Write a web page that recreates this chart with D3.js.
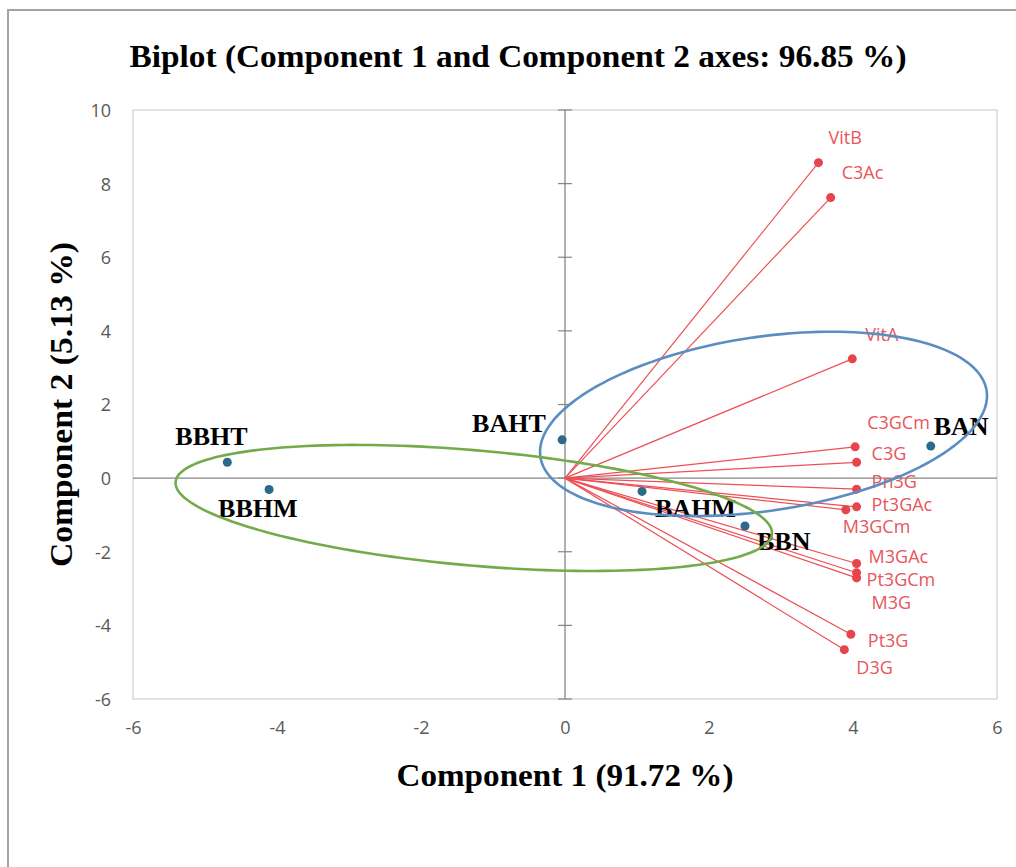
<!DOCTYPE html>
<html>
<head>
<meta charset="utf-8">
<script src="https://cdn.jsdelivr.net/npm/d3@7"></script>
<style>
  body { margin: 0; background: #fff; }
  svg { display: block; }
</style>
</head>
<body>
<svg id="chart" width="1016" height="867"></svg>
<script>
// ---- data ----
const xTicks = [-6, -4, -2, 0, 2, 4, 6];
const yTicks = [-6, -4, -2, 0, 2, 4, 6, 8, 10];

// observations (factor scores)
const obsNames = ["BBHT", "BBHM", "BAHT", "BAHM", "BBN", "BAN"];
const obsX = [-4.69, -4.11, -0.04, 1.07, 2.50, 5.08];
const obsY = [0.43, -0.31, 1.04, -0.36, -1.30, 0.87];

// variables (loading vectors)
const varNames = ["VitB", "C3Ac", "VitA", "C3GCm", "C3G", "Pn3G", "Pt3GAc",
                  "M3GCm", "M3GAc", "Pt3GCm", "M3G", "Pt3G", "D3G"];
const varX = [3.52, 3.69, 3.99, 4.03, 4.05, 4.05, 4.05, 3.90, 4.05, 4.05, 4.05, 3.97, 3.88];
const varY = [8.57, 7.62, 3.24, 0.85, 0.43, -0.30, -0.78, -0.86, -2.32, -2.57, -2.71, -4.24, -4.66];

// group ellipses: centre, spread on each component, correlation
const ellCX = [2.757, -1.267];
const ellCY = [1.473, -0.81];
const ellSX = [3.104, 4.142];
const ellSY = [2.504, 1.712];
const ellR = [0.304, -0.397];

const titleText = "Biplot (Component 1 and Component 2 axes: 96.85 %)";
const xTitle = "Component 1 (91.72 %)";
const yTitle = "Component 2 (5.13 %)";

// ---- layout ----
const plot = { left: 133, right: 997, top: 110, bottom: 699 };
const serif = "'Liberation Serif', 'Times New Roman', serif";
const sans = "'Open Sans', 'Noto Sans', sans-serif";
const ellColors = ["#5a8ec2", "#74ab4a"];

// label nudges (pixels from the marker)
const varNudge = [[10, -25], [11, -25], [13, -24], [12, -24], [15, -9], [15, -8], [15, -2],
                  [-3, 17], [12, -7], [10, 7], [15, 25], [17, 6], [12, 18]];
const obsNudge = [[-52, -17], [-51, 27], [-90, -8], [13, 26], [12, 24], [3, -11]];

const svg = d3.select("#chart");

const x = d3.scaleLinear().domain([-6, 6]).range([plot.left, plot.right]);
const y = d3.scaleLinear().domain([-6, 10]).range([plot.bottom, plot.top]);
const tickFmt = d => String(d);

// outer chart frame
svg.append("rect")
  .attr("x", 8).attr("y", 10)
  .attr("width", 1030).attr("height", 880)
  .attr("fill", "#fff")
  .attr("stroke", "#a3a3a3").attr("stroke-width", 2);

// plot area border
svg.append("rect")
  .attr("x", plot.left).attr("y", plot.top)
  .attr("width", plot.right - plot.left).attr("height", plot.bottom - plot.top)
  .attr("fill", "none").attr("stroke", "#cfcfcf").attr("stroke-width", 1.2);

// tick labels
const xAxis = d3.axisBottom(x).tickValues(xTicks).tickSize(0).tickPadding(0)
  .tickFormat(tickFmt);
svg.append("g")
  .attr("transform", `translate(0,${plot.bottom + 35})`)
  .call(xAxis)
  .call(g => g.select(".domain").remove())
  .call(g => g.selectAll("text")
    .attr("dy", 0).attr("y", 0)
    .attr("font-family", sans).attr("font-size", 18).attr("fill", "#595959"));

const yAxis = d3.axisLeft(y).tickValues(yTicks).tickSize(0).tickPadding(0)
  .tickFormat(tickFmt);
svg.append("g")
  .attr("transform", `translate(${plot.left - 22},0)`)
  .call(yAxis)
  .call(g => g.select(".domain").remove())
  .call(g => g.selectAll("text")
    .attr("dy", "0.36em").attr("x", 0)
    .attr("font-family", sans).attr("font-size", 18).attr("fill", "#595959"));

// axes through the origin
svg.append("line")
  .attr("x1", x(0)).attr("x2", x(0)).attr("y1", plot.top).attr("y2", plot.bottom)
  .attr("stroke", "#868686").attr("stroke-width", 1.3);
svg.append("line")
  .attr("x1", plot.left).attr("x2", plot.right).attr("y1", y(0)).attr("y2", y(0))
  .attr("stroke", "#868686").attr("stroke-width", 1.3);

// cross ticks on the vertical axis
svg.append("g").selectAll("line")
  .data(yTicks)
  .join("line")
  .attr("x1", x(0) - 7).attr("x2", x(0) + 7)
  .attr("y1", d => y(d)).attr("y2", d => y(d))
  .attr("stroke", "#868686").attr("stroke-width", 1.2);

// variable vectors
const vars = varNames.map((n, i) => ({ name: n, x: varX[i], y: varY[i], nudge: varNudge[i] }));
svg.append("g").selectAll("line")
  .data(vars)
  .join("line")
  .attr("x1", x(0)).attr("y1", y(0))
  .attr("x2", d => x(d.x)).attr("y2", d => y(d.y))
  .attr("stroke", "#ee4f55").attr("stroke-width", 1.2);

svg.append("g").selectAll("circle")
  .data(vars)
  .join("circle")
  .attr("cx", d => x(d.x)).attr("cy", d => y(d.y)).attr("r", 4.5)
  .attr("fill", "#e8444b");

svg.append("g").selectAll("text")
  .data(vars)
  .join("text")
  .attr("x", d => x(d.x) + d.nudge[0])
  .attr("y", d => y(d.y) + d.nudge[1] + 6.5)
  .attr("font-family", sans).attr("font-size", 18)
  .attr("fill", "#e8555b")
  .text(d => d.name);

// observations
const obs = obsNames.map((n, i) => ({ name: n, x: obsX[i], y: obsY[i], nudge: obsNudge[i] }));
svg.append("g").selectAll("circle")
  .data(obs)
  .join("circle")
  .attr("cx", d => x(d.x)).attr("cy", d => y(d.y)).attr("r", 4.5)
  .attr("fill", "#2c6a8a");

svg.append("g").selectAll("text")
  .data(obs)
  .join("text")
  .attr("x", d => x(d.x) + d.nudge[0])
  .attr("y", d => y(d.y) + d.nudge[1])
  .attr("font-family", serif).attr("font-size", 26).attr("font-weight", "bold")
  .attr("fill", "#000")
  .text(d => d.name);

// group ellipses
const ellipses = ellCX.map((cx, i) => ({
  cx, cy: ellCY[i], sx: ellSX[i], sy: ellSY[i], r: ellR[i], color: ellColors[i]
}));
const ellLine = d3.line().x(p => x(p[0])).y(p => y(p[1])).curve(d3.curveLinearClosed);
svg.append("g").selectAll("path")
  .data(ellipses)
  .join("path")
  .attr("d", e => {
    const k = Math.sqrt(1 - e.r * e.r);
    const pts = d3.range(0, 2 * Math.PI, Math.PI / 90).map(t => [
      e.cx + e.sx * Math.cos(t),
      e.cy + e.sy * (e.r * Math.cos(t) + k * Math.sin(t))
    ]);
    return ellLine(pts);
  })
  .attr("fill", "none")
  .attr("stroke", e => e.color).attr("stroke-width", 2.6);

// titles
svg.append("text")
  .attr("x", 518).attr("y", 67)
  .attr("text-anchor", "middle")
  .attr("font-family", serif).attr("font-size", 31).attr("font-weight", "bold")
  .attr("textLength", 777).attr("lengthAdjust", "spacingAndGlyphs")
  .text(titleText);

svg.append("text")
  .attr("x", (plot.left + plot.right) / 2).attr("y", 786)
  .attr("text-anchor", "middle")
  .attr("font-family", serif).attr("font-size", 31).attr("font-weight", "bold")
  .attr("textLength", 337).attr("lengthAdjust", "spacingAndGlyphs")
  .text(xTitle);

svg.append("text")
  .attr("transform", `translate(72,${(plot.top + plot.bottom) / 2}) rotate(-90)`)
  .attr("text-anchor", "middle")
  .attr("font-family", serif).attr("font-size", 31).attr("font-weight", "bold")
  .attr("textLength", 325).attr("lengthAdjust", "spacingAndGlyphs")
  .text(yTitle);
</script>
</body>
</html>
